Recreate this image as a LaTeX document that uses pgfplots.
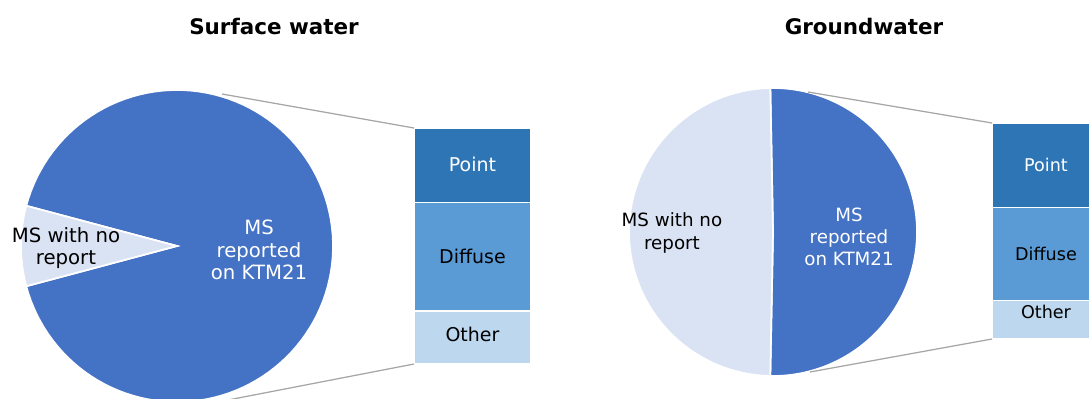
\documentclass[border=0pt]{standalone}
\usepackage{pgfplots}
\pgfplotsset{compat=1.18}
\usepackage{fontspec}
\setmainfont{DejaVu Sans}

\definecolor{pieblue}{HTML}{4472C4}
\definecolor{pielight}{HTML}{DAE3F3}
\definecolor{pointc}{HTML}{2E75B6}
\definecolor{diffc}{HTML}{5B9BD5}
\definecolor{otherc}{HTML}{BDD7EE}
\definecolor{linec}{HTML}{A6A6A6}

% shares in percent
\def\swReported{91.7}
\def\swNone{8.3}
\def\gwReported{50.6}
\def\gwNone{49.4}

\pgfmathsetmacro{\swA}{180-1.8*\swNone}
\pgfmathsetmacro{\swB}{180+1.8*\swNone}
\pgfmathsetmacro{\swC}{\swA+360}
\pgfmathsetmacro{\gwA}{1.8*\gwReported}
\pgfmathsetmacro{\gwB}{360-1.8*\gwReported}

\pgfplotsset{
  pieax/.style={x=0.02cm, y=0.02cm, anchor=origin, axis lines=none,
    xmin=-160, xmax=160, ymin=-160, ymax=160, clip=false},
  barax/.style={anchor=south west, scale only axis, axis lines=none,
    ybar stacked, xmin=-0.5, xmax=0.5, ymin=0, ymax=100, clip=false},
  seg/.style={draw=white, line width=0.035cm},
}

\begin{document}
\begin{tikzpicture}
\clip (0,0) rectangle (21.78,7.96);
\path[use as bounding box] (0,0) rectangle (21.78,7.96);

% ---- Surface water ----
\node[font=\fontsize{12.2}{14}\selectfont\bfseries] at (5.48,7.42) {Surface water};

\begin{axis}[pieax, at={(3.54cm,3.04cm)}]
\addplot[fill=pieblue, seg, domain=\swB:\swC, samples=120]
  ({156*cos(x)},{156*sin(x)}) -- (0,0) -- cycle;
\addplot[fill=pielight, seg, domain=\swA:\swB, samples=20]
  ({156*cos(x)},{156*sin(x)}) -- (0,0) -- cycle;
\node[align=center, font=\fontsize{11.2}{12.8}\selectfont] at (-111,-2) {MS with no\\report};
\node[align=center, text=white, font=\fontsize{11.2}{12.8}\selectfont] at (82,-4) {MS\\reported\\on KTM21};
\end{axis}

\begin{axis}[barax, at={(8.28cm,0.68cm)}, width=2.34cm, height=4.72cm, bar width=2.34cm]
\addplot[fill=otherc, seg] coordinates {(0,22.6)};
\addplot[fill=diffc, seg] coordinates {(0,45.8)};
\addplot[fill=pointc, seg] coordinates {(0,31.6)};
\coordinate (sO) at (0,12.5);
\coordinate (sD) at (0,45.5);
\coordinate (sP) at (0,84.5);
\end{axis}
\node[font=\fontsize{10.8}{12}\selectfont] at (sO) {Other};
\node[font=\fontsize{10.8}{12}\selectfont] at (sD) {Diffuse};
\node[text=white, font=\fontsize{10.8}{12}\selectfont] at (sP) {Point};

\draw[linec, line width=0.025cm] (4.44,6.08) -- (8.28,5.40);
\draw[linec, line width=0.025cm] (4.56,-0.04) -- (8.28,0.68);

% ---- Groundwater ----
\node[font=\fontsize{12.2}{14}\selectfont\bfseries] at (17.28,7.42) {Groundwater};

\begin{axis}[pieax, at={(15.46cm,3.32cm)}]
\addplot[fill=pieblue, seg, domain=-\gwA:\gwA, samples=100]
  ({144*cos(x)},{144*sin(x)}) -- (0,0) -- cycle;
\addplot[fill=pielight, seg, domain=\gwA:\gwB, samples=100]
  ({144*cos(x)},{144*sin(x)}) -- (0,0) -- cycle;
\node[align=center, font=\fontsize{10.4}{12.6}\selectfont] at (-101,-1) {MS with no\\report};
\node[align=center, text=white, font=\fontsize{10.4}{12.6}\selectfont] at (76,-5) {MS\\reported\\on KTM21};
\end{axis}

\begin{axis}[barax, at={(19.84cm,1.18cm)}, width=2.16cm, height=4.32cm, bar width=2.16cm]
\addplot[fill=otherc, seg] coordinates {(0,17.8)};
\addplot[fill=diffc, seg] coordinates {(0,43.1)};
\addplot[fill=pointc, seg] coordinates {(0,39.1)};
\coordinate (gO) at (0,12.5);
\coordinate (gD) at (0,39.4);
\coordinate (gP) at (0,80.5);
\end{axis}
\node[font=\fontsize{10}{12}\selectfont] at (gO) {Other};
\node[font=\fontsize{10}{12}\selectfont] at (gD) {Diffuse};
\node[text=white, font=\fontsize{10}{12}\selectfont] at (gP) {Point};

\draw[linec, line width=0.025cm] (16.16,6.12) -- (19.84,5.50);
\draw[linec, line width=0.025cm] (16.20,0.52) -- (19.84,1.18);
\end{tikzpicture}
\end{document}
